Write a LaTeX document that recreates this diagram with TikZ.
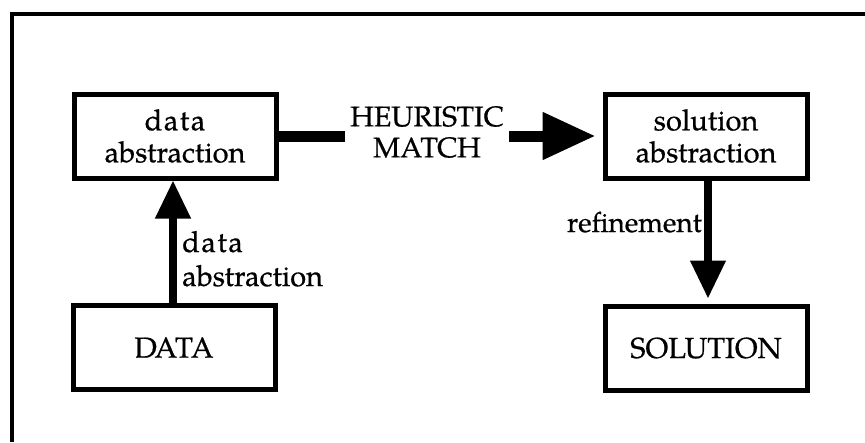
\documentclass[tikz,border=0pt]{standalone}
\usepackage{fontspec}
\setmainfont{TeX Gyre Pagella}[FakeBold=0.6]
\usetikzlibrary{arrows.meta}
\begin{document}
\begin{tikzpicture}[x=1pt,y=-1pt,
  every node/.style={font=\fontsize{29}{32}\selectfont},
  stage/.style={draw,line width=5pt,minimum width=202pt,minimum height=84pt,
    inner sep=0pt,align=center},
  heavy/.style={line width=11pt},
  thin arrow/.style={line width=7.5pt,-{Triangle[length=38pt,width=34pt]}},
  plain label/.style={inner sep=0pt,align=left}]
  \useasboundingbox (0,0) rectangle (865,442);
  % open frame: top and left edges only
  \draw[line width=3.5pt] (12,442) -- (12,14) -- (865,14);

  % the four stages
  \node[stage] (da)  at (175,136)   {d\kern1.5pt a\kern1.5pt t\kern1.5pt a\\abstraction};
  \node[stage] (sa)  at (706,136)   {solution\\abstraction};
  \node[stage] (raw) at (174,347.5) {DATA};
  \node[stage] (sol) at (706,348)   {SOLUTION};

  % heuristic match between the two abstractions
  \node[inner xsep=5pt,inner ysep=0pt,align=center,
        font=\fontsize{28.5}{31}\selectfont] (hm) at (427,132) {HEURISTIC\\MATCH};
  \draw[heavy] (da.east) -- (da.east -| hm.west);
  \draw[heavy,-{Triangle[length=53pt,width=45pt]},shorten >=7pt]
    (hm.east |- sa.west) -- (sa.west);

  % data abstraction upwards, refinement downwards
  \draw[thin arrow] (raw.north -| 173,0) -- (da.south -| 173,0);
  \draw[thin arrow,shorten >=5pt] (sa.south -| 708,0) -- (sol.north -| 708,0);

  \node[plain label,anchor=base west,font=\fontsize{29}{34}\selectfont] (dal) at (182,286)
    {d\kern1.5pt a\kern1.5pt t\kern1.5pt a\\abstraction};
  \node[plain label,anchor=base east,font=\fontsize{28}{32}\selectfont] (ref) at (702,232) {refinement};
\end{tikzpicture}
\end{document}
